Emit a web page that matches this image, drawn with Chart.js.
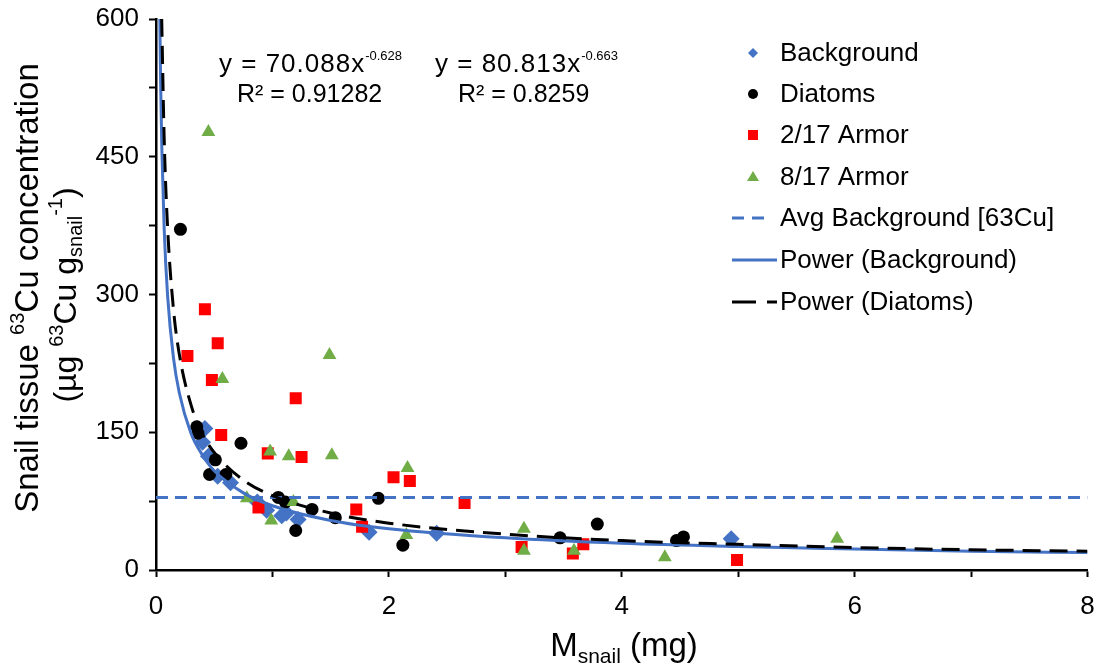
<!DOCTYPE html>
<html lang="en">
<head>
<meta charset="UTF-8" />
<title>Snail tissue 63Cu vs snail mass</title>
<script src="https://cdn.jsdelivr.net/npm/chart.js"></script>
<style>
  html, body { margin: 0; padding: 0; background: #fff; }
  #wrap { width: 1096px; height: 665px; }
</style>
</head>
<body>
<div id="wrap"><canvas id="cuChart" width="1096" height="665"></canvas></div>
<script>
  // values (x = snail mass in mg, y = ug 63Cu / g snail)
  const backgroundX = [0.42, 0.40, 0.45, 0.53, 0.64, 0.87, 0.95, 1.08, 1.12, 1.22, 1.83, 2.41, 4.94];
  const backgroundY = [154, 139, 124, 102, 95, 74, 65, 59, 62, 55, 41, 40, 34];

  const diatomsX = [0.21, 0.35, 0.36, 0.73, 0.51, 0.46, 0.60, 1.05, 1.11, 1.20, 1.34, 1.54, 1.91, 2.12, 3.47, 3.79, 4.47, 4.53];
  const diatomsY = [371, 156, 149, 138, 120, 104, 104, 79, 74, 43, 66, 57, 78, 27, 35, 50, 32, 36];

  const armor217X = [0.42, 0.27, 0.53, 0.48, 1.20, 0.56, 0.96, 0.88, 1.25, 2.04, 2.18, 1.72, 1.77, 2.65, 3.14, 3.58, 3.67, 4.99];
  const armor217Y = [284, 233, 247, 207, 187, 147, 127, 68, 123, 101, 97, 66, 47, 73, 25, 18, 28, 11];

  const armor817X = [0.45, 1.49, 0.57, 0.98, 1.14, 1.51, 0.78, 0.99, 1.18, 2.16, 2.15, 3.16, 3.16, 3.59, 4.37, 5.85];
  const armor817Y = [477, 234, 208, 129, 124, 125, 78, 54, 74, 111, 38, 45, 21, 21, 14, 34];

  const avgBackgroundX = [0, 8];
  const avgBackgroundY = [79, 79];

  // trendlines as traced on the figure
  const powerBgX = [0.033, 0.04, 0.05, 0.07, 0.1, 0.15, 0.2, 0.3, 0.4, 0.5, 0.75, 1, 1.5, 2, 3, 4, 5, 6, 7, 8];
  const powerBgY = [600, 529, 460, 372, 298, 231, 193, 149, 125, 108, 84, 70, 54, 45, 35, 29, 25.5, 23, 20.5, 19];
  const powerDiX = [0.049, 0.07, 0.1, 0.15, 0.2, 0.3, 0.4, 0.5, 0.75, 1, 1.5, 2, 3, 4, 5, 6, 7, 8];
  const powerDiY = [600, 471, 372, 284, 235, 180, 148, 128, 98, 81, 62, 51, 39, 32, 28, 24.5, 22, 20.5];

  const xTicks = [0, 2, 4, 6, 8];
  const yTicks = [0, 150, 300, 450, 600];

  const FONT = '"Liberation Sans", Arial, sans-serif';
  const BLUE = '#4472C4';
  const RED = '#FF0000';
  const GREEN = '#70AD47';

  function pts(xs, ys) {
    return xs.map((x, i) => ({ x: x, y: ys[i] }));
  }

  // draw text made of runs (normal / super / sub)
  function richText(ctx, runs, x, y, align) {
    let total = 0;
    runs.forEach(r => {
      ctx.font = r.size + 'px ' + FONT;
      ctx.letterSpacing = (r.ls || 0) + 'px';
      r.w = ctx.measureText(r.t).width;
      total += r.w;
    });
    let cx = align === 'center' ? x - total / 2 : x;
    ctx.textAlign = 'left';
    ctx.textBaseline = 'alphabetic';
    runs.forEach(r => {
      ctx.font = r.size + 'px ' + FONT;
      ctx.letterSpacing = (r.ls || 0) + 'px';
      ctx.fillText(r.t, cx, y + (r.dy || 0));
      cx += r.w;
    });
    ctx.letterSpacing = '0px';
  }

  function equation(ctx, coef, expo, x, y) {
    richText(ctx, [
      { t: 'y = ' + coef + 'x', size: 26, ls: 1 },
      { t: expo, size: 13, dy: -12 }
    ], x, y, 'left');
  }

  const decorations = {
    id: 'decorations',
    afterDraw(chart) {
      const ctx = chart.ctx;
      ctx.save();
      ctx.fillStyle = '#000';

      // trendline equations
      equation(ctx, '70.088', '-0.628', 219, 72);
      richText(ctx, [{ t: 'R² = 0.91282', size: 25 }], 237, 102, 'left');
      equation(ctx, '80.813', '-0.663', 435, 72);
      richText(ctx, [{ t: 'R² = 0.8259', size: 25 }], 458, 102, 'left');

      // x axis title
      richText(ctx, [{ t: 'M', size: 33 }, { t: 'snail', size: 21, dy: 7 }, { t: ' (mg)', size: 33 }], 624, 656, 'center');

      // y axis title (two lines, rotated)
      ctx.save();
      ctx.translate(38, 288);
      ctx.rotate(-Math.PI / 2);
      richText(ctx, [{ t: 'Snail tissue ', size: 33 }, { t: '63', size: 20, dy: -14 }, { t: 'Cu concentration', size: 33 }], 0, 0, 'center');
      ctx.restore();
      ctx.save();
      ctx.translate(76, 295);
      ctx.rotate(-Math.PI / 2);
      richText(ctx, [{ t: '(µg ', size: 32 }, { t: '63', size: 20, dy: -13 }, { t: 'Cu g', size: 32 }, { t: 'snail', size: 20, dy: 6 }, { t: '-1', size: 20, dy: -14 }, { t: ')', size: 32 }], 0, 0, 'center');
      ctx.restore();

      // legend
      const lx = 753, tx = 780;
      const rows = [53, 94, 135, 177, 218, 260, 302];
      const labels = ['Background', 'Diatoms', '2/17 Armor', '8/17 Armor', 'Avg Background [63Cu]', 'Power (Background)', 'Power (Diatoms)'];
      // markers
      ctx.fillStyle = BLUE;
      ctx.beginPath();
      ctx.moveTo(lx, rows[0] - 5); ctx.lineTo(lx + 5, rows[0]); ctx.lineTo(lx, rows[0] + 5); ctx.lineTo(lx - 5, rows[0]);
      ctx.closePath(); ctx.fill();
      ctx.fillStyle = '#000';
      ctx.beginPath(); ctx.arc(lx, rows[1], 5, 0, Math.PI * 2); ctx.fill();
      ctx.fillStyle = RED;
      ctx.fillRect(lx - 5, rows[2] - 5, 10, 10);
      ctx.fillStyle = GREEN;
      ctx.beginPath();
      ctx.moveTo(lx, rows[3] - 6); ctx.lineTo(lx + 6, rows[3] + 4); ctx.lineTo(lx - 6, rows[3] + 4);
      ctx.closePath(); ctx.fill();
      // line samples
      ctx.lineWidth = 3;
      ctx.strokeStyle = BLUE;
      ctx.setLineDash([12, 8]);
      ctx.beginPath(); ctx.moveTo(732, rows[4]); ctx.lineTo(770, rows[4]); ctx.stroke();
      ctx.setLineDash([]);
      ctx.beginPath(); ctx.moveTo(732, rows[5]); ctx.lineTo(777, rows[5]); ctx.stroke();
      ctx.strokeStyle = '#000';
      ctx.beginPath(); ctx.moveTo(732, rows[6]); ctx.lineTo(756, rows[6]); ctx.stroke();
      ctx.beginPath(); ctx.moveTo(767, rows[6]); ctx.lineTo(777, rows[6]); ctx.stroke();
      // labels
      ctx.fillStyle = '#000';
      ctx.font = '26px ' + FONT;
      ctx.textAlign = 'left';
      ctx.textBaseline = 'middle';
      labels.forEach((l, i) => ctx.fillText(l, tx, rows[i] + 1));

      ctx.restore();
    }
  };

  const ctx = document.getElementById('cuChart').getContext('2d');
  new Chart(ctx, {
    type: 'scatter',
    data: {
      datasets: [
        {
          label: 'Power (Diatoms)',
          data: pts(powerDiX, powerDiY),
          showLine: true, pointRadius: 0, borderColor: '#000', borderWidth: 3,
          borderDash: [18, 9], cubicInterpolationMode: 'monotone', order: 1
        },
        {
          label: 'Power (Background)',
          data: pts(powerBgX, powerBgY),
          showLine: true, pointRadius: 0, borderColor: BLUE, borderWidth: 3,
          cubicInterpolationMode: 'monotone', order: 2
        },
        {
          label: 'Avg Background [63Cu]',
          data: pts(avgBackgroundX, avgBackgroundY),
          showLine: true, pointRadius: 0, borderColor: BLUE, borderWidth: 3,
          borderDash: [12, 7], order: 3
        },
        {
          label: '8/17 Armor',
          data: pts(armor817X, armor817Y),
          pointStyle: 'triangle', pointRadius: 8, backgroundColor: GREEN, borderColor: GREEN, borderWidth: 0, order: 4
        },
        {
          label: '2/17 Armor',
          data: pts(armor217X, armor217Y),
          pointStyle: 'rect', pointRadius: 8.5, backgroundColor: RED, borderColor: RED, borderWidth: 0, order: 5
        },
        {
          label: 'Diatoms',
          data: pts(diatomsX, diatomsY),
          pointStyle: 'circle', pointRadius: 6.5, backgroundColor: '#000', borderColor: '#000', borderWidth: 0, order: 6
        },
        {
          label: 'Background',
          data: pts(backgroundX, backgroundY),
          pointStyle: 'rectRot', pointRadius: 8.5, backgroundColor: BLUE, borderColor: BLUE, borderWidth: 0, order: 7
        }
      ]
    },
    options: {
      responsive: false,
      animation: false,
      layout: { padding: { top: 19, right: 8, left: 0, bottom: 0 } },
      plugins: { legend: { display: false }, tooltip: { enabled: false } },
      scales: {
        x: {
          type: 'linear', min: 0, max: 8,
          ticks: {
            stepSize: 1, autoSkip: false, maxRotation: 0, padding: 14,
            color: '#000', font: { family: FONT, size: 26 },
            callback: v => xTicks.includes(v) ? String(v) : ''
          },
          grid: { drawOnChartArea: false, drawTicks: true, tickLength: 7, tickColor: '#000', tickWidth: 2 },
          border: { color: '#000', width: 2.5 },
          afterFit: s => { s.height = 95; s.paddingLeft = 0; s.paddingRight = 0; }
        },
        y: {
          type: 'linear', min: 0, max: 600,
          ticks: {
            stepSize: 75, autoSkip: false, padding: 10,
            color: '#000', font: { family: FONT, size: 26 },
            callback: v => yTicks.includes(v) ? String(v) : ''
          },
          grid: { drawOnChartArea: false, drawTicks: true, tickLength: 7, tickColor: '#000', tickWidth: 2 },
          border: { color: '#000', width: 2.5 },
          afterFit: s => { s.width = 156; s.paddingTop = 0; s.paddingBottom = 0; }
        }
      }
    },
    plugins: [decorations]
  });
</script>
</body>
</html>
